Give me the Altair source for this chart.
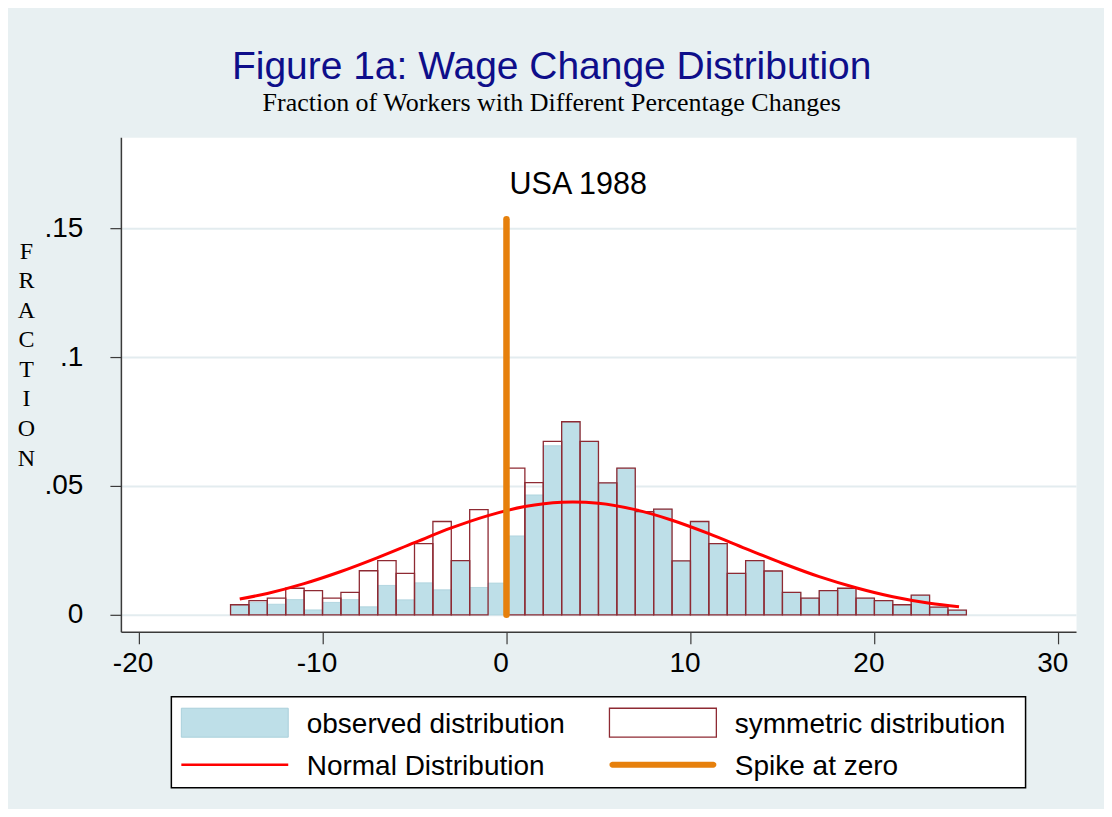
import altair as alt
import pandas as pd

# ---------------- data ----------------
bin_start = [-15, -14, -13, -12, -11, -10, -9, -8, -7, -6, -5, -4, -3, -2, -1,
             0, 1, 2, 3, 4, 5, 6, 7, 8, 9, 10, 11, 12, 13, 14, 15, 16, 17, 18,
             19, 20, 21, 22, 23, 24]
bin_end = [-14, -13, -12, -11, -10, -9, -8, -7, -6, -5, -4, -3, -2, -1, 0,
           1, 2, 3, 4, 5, 6, 7, 8, 9, 10, 11, 12, 13, 14, 15, 16, 17, 18, 19,
           20, 21, 22, 23, 24, 25]
observed = [0.0036, 0.0049, 0.0041, 0.0059, 0.0019, 0.0048, 0.0059, 0.0031,
            0.0114, 0.0058, 0.0124, 0.0097, 0.0210, 0.0106, 0.0123,
            0.0306, 0.0465, 0.0656, 0.0749, 0.0673, 0.0512, 0.0569, 0.0400,
            0.0410, 0.0209, 0.0362, 0.0276, 0.0161, 0.0210, 0.0170, 0.0087,
            0.0065, 0.0094, 0.0103, 0.0065, 0.0055, 0.0039, 0.0076, 0.0030,
            0.0018]
symmetric = [0.0039, 0.0055, 0.0065, 0.0103, 0.0094, 0.0065, 0.0087, 0.0171,
             0.0210, 0.0161, 0.0276, 0.0362, 0.0210, 0.0408, None,
             0.0569, 0.0513, 0.0673, 0.0749, 0.0673, 0.0512, 0.0569, 0.0400,
             0.0410, 0.0209, 0.0362, 0.0276, 0.0161, 0.0210, 0.0170, 0.0087,
             0.0065, 0.0094, 0.0103, 0.0065, 0.0055, 0.0039, 0.0076, 0.0030,
             0.0018]

norm_x = [-14.5, -13, -11, -9, -7, -5, -3, -1, 1, 3, 3.6, 5, 7, 9, 11, 13,
          15, 17, 19, 21, 23, 24.6]
norm_y = [0.0061, 0.0083, 0.0121, 0.0168, 0.0222, 0.0280, 0.0337, 0.0385,
          0.0420, 0.0437, 0.0438, 0.0433, 0.0408, 0.0367, 0.0315, 0.0257,
          0.0200, 0.0148, 0.0105, 0.0070, 0.0045, 0.0031]

spike_x = [0]
spike_y = [0.1535]

annot_text = ["USA 1988"]
annot_x = [3.9]
annot_y = [0.1634]

x_ticks = [-20, -10, 0, 10, 20, 30]
x_tick_labels = ["-20", "-10", "0", "10", "20", "30"]
y_ticks = [0, 0.05, 0.1, 0.15]
y_tick_labels = ["0", ".05", ".1", ".15"]

legend_labels = ["observed distribution", "symmetric distribution",
                 "Normal Distribution", "Spike at zero"]
legend_kind = ["observed", "symmetric", "normal", "spike"]
legend_col = [0, 1, 0, 1]
legend_row = [0, 0, 1, 1]

# ---------------- tables ----------------
bars_df = pd.DataFrame({"start": bin_start, "end": bin_end,
                        "observed": observed, "symmetric": symmetric})
norm_df = pd.DataFrame({"x": norm_x, "y": norm_y})
spike_df = pd.DataFrame({"x": spike_x, "y": spike_y})
annot_df = pd.DataFrame({"x": annot_x, "y": annot_y, "text": annot_text})
leg_df = pd.DataFrame({"label": legend_labels, "kind": legend_kind,
                       "col": legend_col, "row": legend_row})

# ---------------- styles ----------------
BG = "#E8F0F2"
GRID = "#E3ECEF"
AXIS = "#3A3A3A"
OBS_FILL = "#BEDFE8"
OBS_STROKE = "#AAD0DB"
SYM = "#8E2A33"
RED = "#FF0000"
ORANGE = "#E6800C"
SANS = "Liberation Sans"
SERIF = "Liberation Serif"


def label_expr(values, labels):
    return " : ".join(
        f"datum.value == {v} ? '{l}'" for v, l in zip(values, labels)
    ) + " : ''"


xscale = alt.Scale(domain=[-20.96, 30.96], nice=False, zero=False)
yscale = alt.Scale(domain=[-0.00659, 0.18527], nice=False, zero=False)

xaxis = alt.Axis(values=x_ticks, labelExpr=label_expr(x_ticks, x_tick_labels),
                 tickSize=12, labelPadding=6, labelOffset=-6, grid=False)
yaxis = alt.Axis(values=y_ticks, labelExpr=label_expr(y_ticks, y_tick_labels),
                 tickSize=11, labelPadding=27, grid=True, gridColor=GRID,
                 gridWidth=2,
                 title=list("FRACTION"), titleAngle=0, titleAlign="center",
                 titleBaseline="top", titleX=-95, titleY=102, titleFont=SERIF,
                 titleFontSize=24, titleFontWeight="normal",
                 titleLineHeight=29.6, titleColor="black")


def X(field):
    return alt.X(field, type="quantitative", scale=xscale, axis=xaxis, title=None)


def Y(field):
    return alt.Y(field, type="quantitative", scale=yscale, axis=yaxis)


obs = alt.Chart(bars_df).mark_rect(
    fill=OBS_FILL, stroke=OBS_STROKE, strokeWidth=0.8
).encode(x=X("start"), x2="end:Q", y=Y("observed"), y2=alt.datum(0))

sym = alt.Chart(bars_df).mark_rect(
    fillOpacity=0, stroke=SYM, strokeWidth=1.3
).encode(x=X("start"), x2="end:Q", y=Y("symmetric"), y2=alt.datum(0))

normal = alt.Chart(norm_df).mark_line(
    color=RED, strokeWidth=3, interpolate="monotone"
).encode(x=X("x"), y=Y("y"))

spike = alt.Chart(spike_df).mark_rule(
    color=ORANGE, strokeWidth=6.5, strokeCap="round"
).encode(x=X("x"), y=Y("y"), y2=alt.datum(0))

annot = alt.Chart(annot_df).mark_text(
    font=SANS, fontSize=30.5, baseline="alphabetic", align="center", color="black"
).encode(x=X("x"), y=Y("y"), text="text:N")

main = alt.layer(obs, sym, normal, spike, annot).properties(
    width=956, height=495,
    view=alt.ViewBackground(fill="white", strokeOpacity=0)
)

# ---------------- legend panel ----------------
lx = alt.X("col:Q", scale=alt.Scale(domain=[0, 1], range=[63.5, 492]), axis=None)
ly = alt.Y("row:Q", scale=alt.Scale(domain=[0, 1], range=[26, 68]), axis=None)

leg_base = alt.Chart(leg_df)
sw_obs = leg_base.transform_filter("datum.kind == 'observed'").mark_tick(
    orient="horizontal", size=107, thickness=29, color=OBS_FILL,
    stroke=OBS_STROKE, strokeWidth=1, opacity=1
).encode(x=lx, y=ly)
sw_sym = leg_base.transform_filter("datum.kind == 'symmetric'").mark_tick(
    orient="horizontal", size=107, thickness=29, color="white",
    stroke=SYM, strokeWidth=1.3, opacity=1
).encode(x=lx, y=ly)
sw_norm = leg_base.transform_filter("datum.kind == 'normal'").mark_tick(
    orient="horizontal", size=107, thickness=2.5, color=RED, opacity=1
).encode(x=lx, y=ly)
sw_spike = leg_base.transform_filter("datum.kind == 'spike'").mark_tick(
    orient="horizontal", size=107, thickness=6, color=ORANGE, opacity=1,
    cornerRadius=3
).encode(x=lx, y=ly)
leg_text = leg_base.mark_text(
    align="left", baseline="middle", dx=72, dy=2, font=SANS, fontSize=28,
    color="black"
).encode(x=lx, y=ly, text="label:N")

legend = alt.layer(sw_obs, sw_sym, sw_norm, sw_spike, leg_text).properties(
    width=855, height=91,
    view=alt.ViewBackground(fill="white", stroke="black", strokeWidth=1.5)
)

chart = alt.vconcat(main, legend, bounds="flush", center=True, spacing=65).properties(
    title=alt.TitleParams(
        text="Figure 1a: Wage Change Distribution",
        subtitle="Fraction of Workers with Different Percentage Changes",
        font=SANS, fontSize=39, fontWeight="normal", color="#0E0E8A",
        subtitleFont=SERIF, subtitleFontSize=26, subtitleColor="black",
        subtitleFontWeight="normal", subtitlePadding=3, offset=21,
        anchor="middle", frame="bounds", dx=5
    ),
    padding={"left": 9, "top": 40, "right": 28, "bottom": 20},
    background=BG
).configure_axis(
    domainColor=AXIS, domainWidth=1.5, tickColor=AXIS, tickWidth=1.2,
    labelFont=SANS, labelFontSize=28, labelColor="black"
)

chart.save("out.html", embed_options={"renderer": "svg", "actions": False})
